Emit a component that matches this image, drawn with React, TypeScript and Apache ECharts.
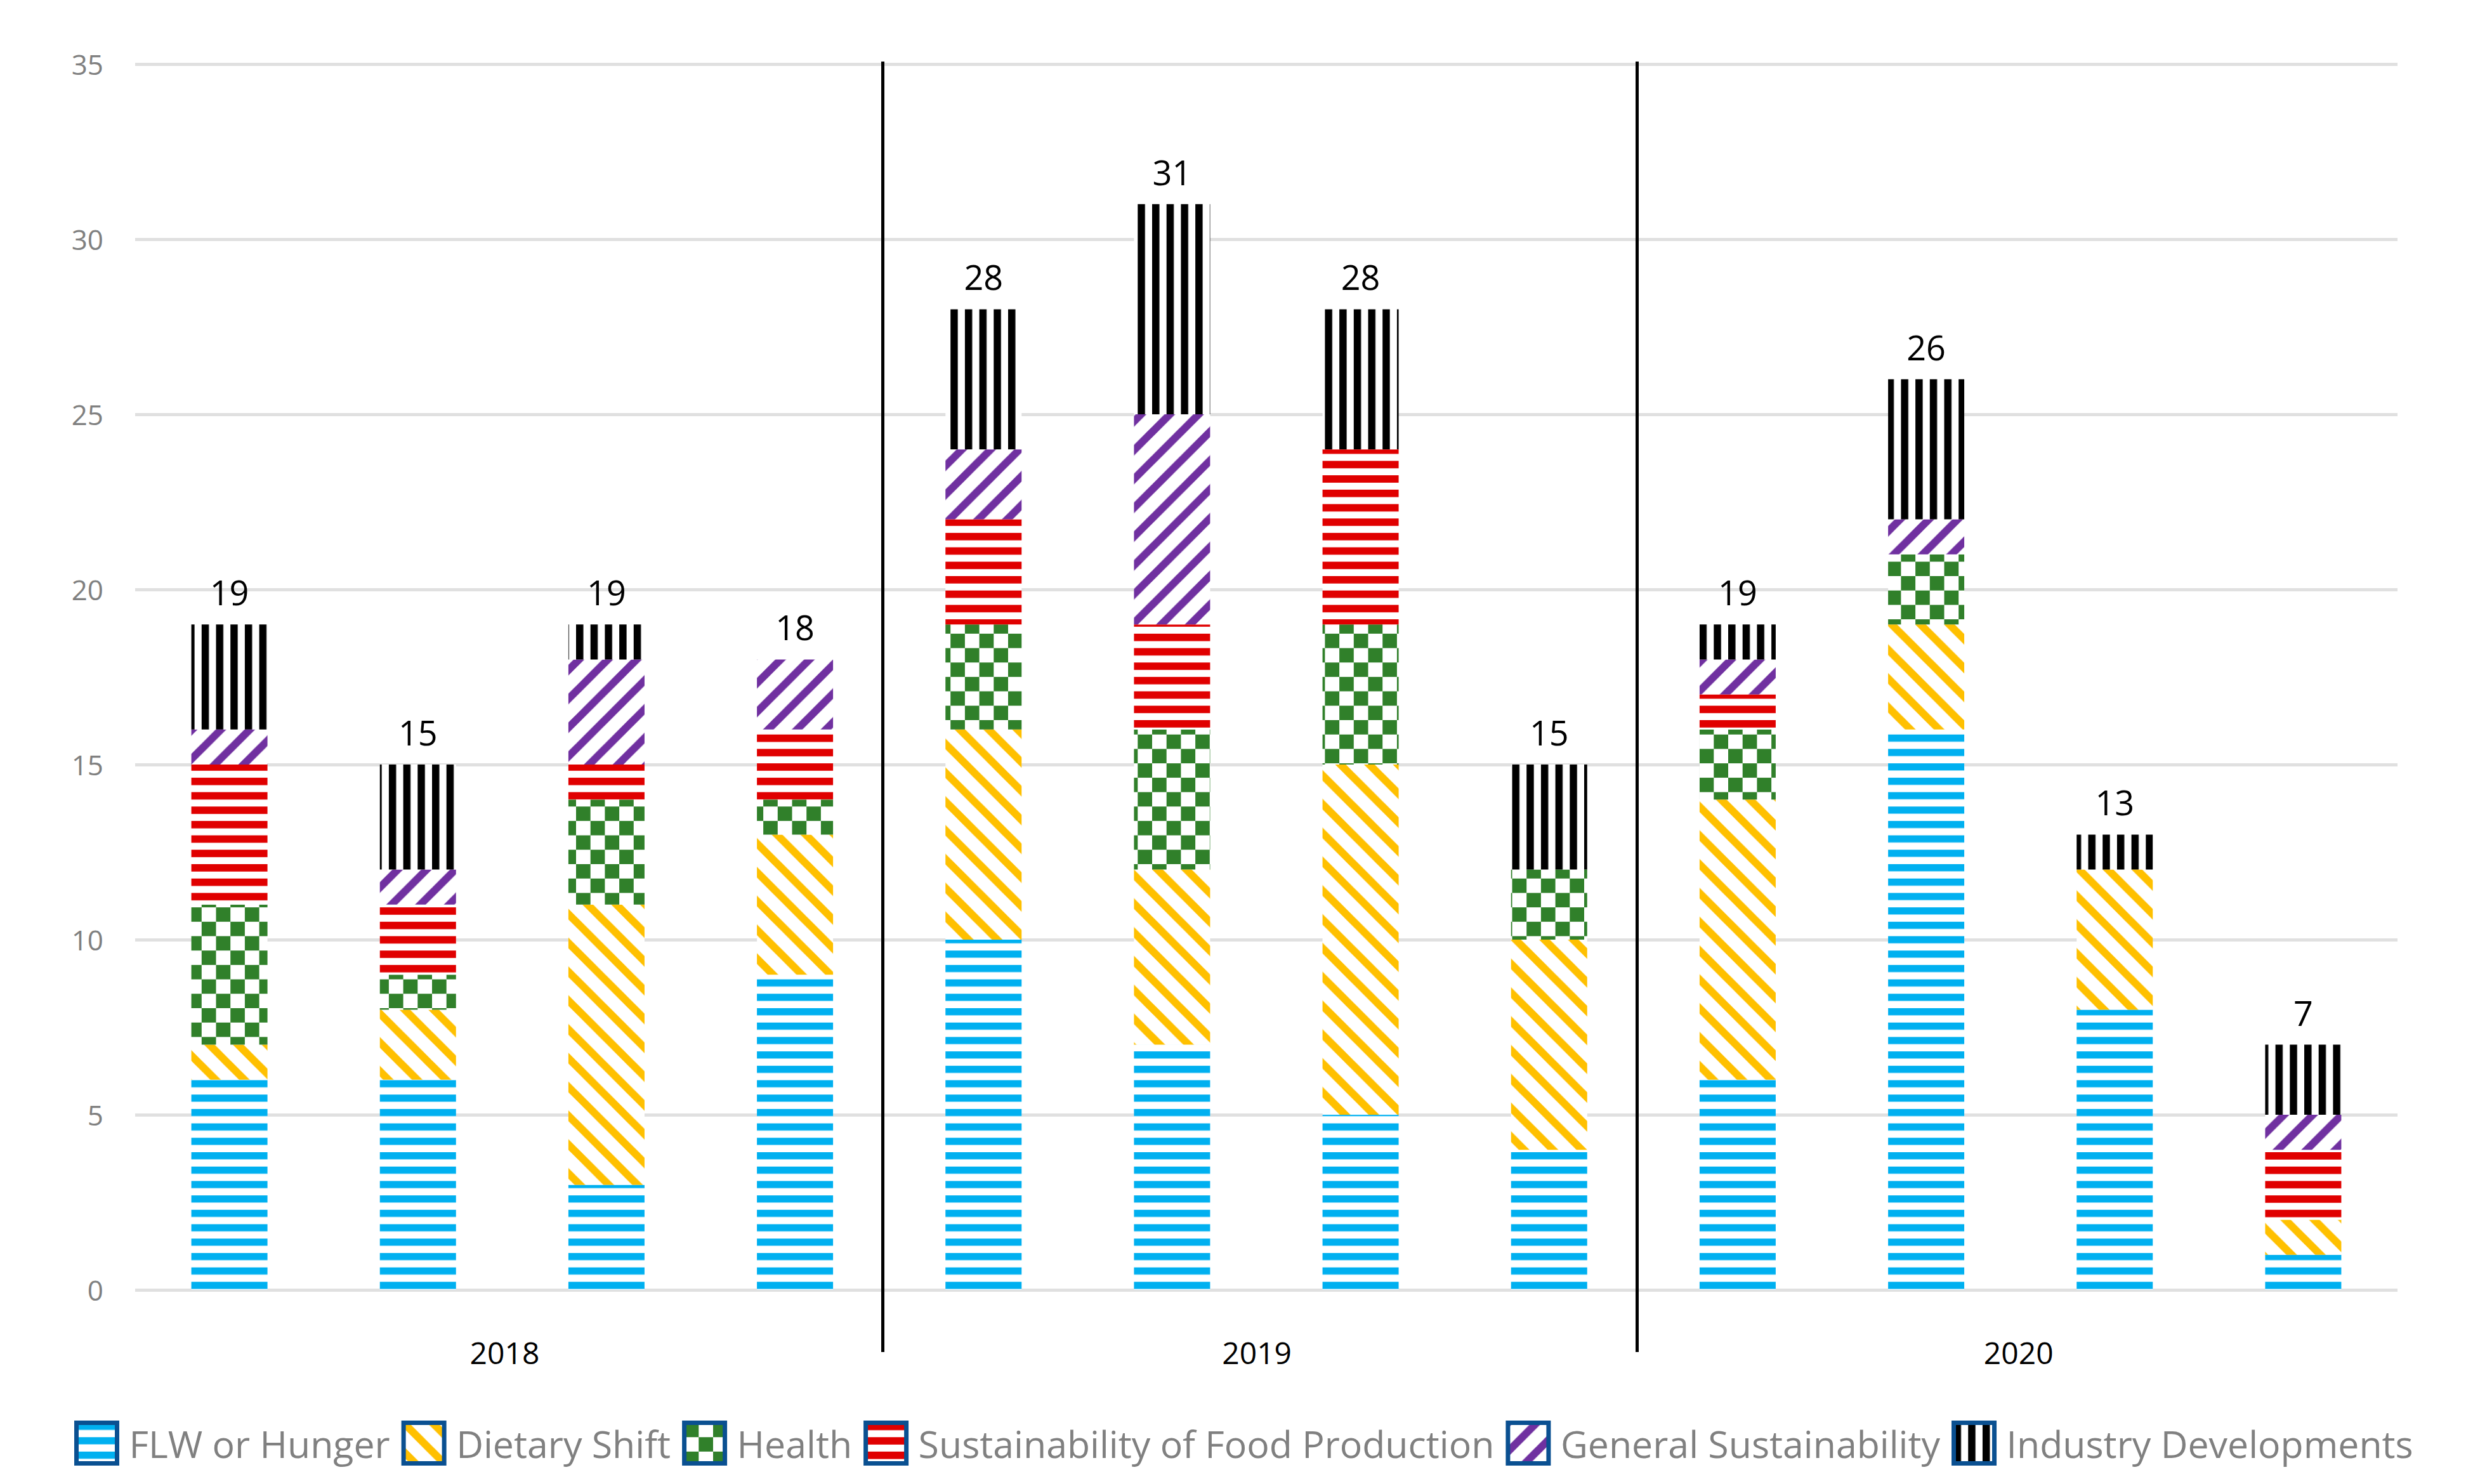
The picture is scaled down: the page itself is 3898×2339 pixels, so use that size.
import React, { useEffect, useRef } from 'react';
import * as echarts from 'echarts';

const categories = [
  '2018-a', '2018-b', '2018-c', '2018-d',
  '2019-a', '2019-b', '2019-c', '2019-d',
  '2020-a', '2020-b', '2020-c', '2020-d',
];
const years = ['2018', '2019', '2020'];
const seriesNames = [
  'FLW or Hunger',
  'Dietary Shift',
  'Health',
  'Sustainability of Food Production',
  'General Sustainability',
  'Industry Developments',
];
const flwOrHunger = [6, 6, 3, 9, 10, 7, 5, 4, 6, 16, 8, 1];
const dietaryShift = [1, 2, 8, 4, 6, 5, 10, 6, 8, 3, 4, 1];
const health = [4, 1, 3, 1, 3, 4, 4, 2, 2, 2, 0, 0];
const sustainabilityOfFood = [4, 2, 1, 2, 3, 3, 5, 0, 1, 0, 0, 2];
const generalSustainability = [1, 1, 3, 2, 2, 6, 0, 0, 1, 1, 0, 1];
const industryDevelopments = [3, 3, 1, 0, 4, 6, 4, 3, 1, 4, 1, 2];
const yMin = 0;
const yMax = 35;
const yStep = 5;

// layout: positions of the year separators / year labels along the category run
const yearBoundaryPos = [3.966, 7.966];
const yearLabelPos = [1.96, 5.95, 9.99];

const FONT = '"Open Sans", "Noto Sans", sans-serif';
const P = 22.7;

function svgPattern(w: number, h: number, inner: string) {
  const svg = `<svg xmlns="http://www.w3.org/2000/svg" width="${w}" height="${h}" viewBox="0 0 ${w} ${h}"><rect x="0" y="0" width="${w}" height="${h}" fill="#ffffff"/>${inner}</svg>`;
  return {
    image: 'data:image/svg+xml;charset=utf-8,' + encodeURIComponent(svg),
    repeat: 'repeat',
    imageWidth: w,
    imageHeight: h,
  };
}
const hStripe = (c: string, t: number) =>
  svgPattern(P, P, `<rect x="0" y="0" width="${P}" height="${t}" fill="${c}"/>`);
const vStripe = (c: string, t: number) =>
  svgPattern(P, P, `<rect x="0" y="0" width="${t}" height="${P}" fill="${c}"/>`);
const checker = (c: string) =>
  svgPattern(2 * P, 2 * P, `<rect x="0" y="0" width="${P}" height="${P}" fill="${c}"/><rect x="${P}" y="${P}" width="${P}" height="${P}" fill="${c}"/>`);
const diagDown = (c: string, w: number) => {
  const T = 2 * P;
  let lines = '';
  for (const k of [-1, 0, 1]) {
    lines += `<line x1="${-T}" y1="${-T + k * T}" x2="${2 * T}" y2="${2 * T + k * T}"/>`;
  }
  return svgPattern(T, T, `<g stroke="${c}" stroke-width="${w}">${lines}</g>`);
};
const diagUp = (c: string, w: number) => {
  const T = 2 * P;
  let lines = '';
  for (const k of [0, 1, 2]) {
    lines += `<line x1="${-T}" y1="${T + k * T}" x2="${2 * T}" y2="${-2 * T + k * T}"/>`;
  }
  return svgPattern(T, T, `<g stroke="${c}" stroke-width="${w}">${lines}</g>`);
};

export default function App() {
  const ref = useRef<HTMLDivElement>(null);
  useEffect(() => {
    if (!ref.current) return;
    const chart = echarts.init(ref.current, null, { renderer: 'svg' });
    const values = [
      flwOrHunger,
      dietaryShift,
      health,
      sustainabilityOfFood,
      generalSustainability,
      industryDevelopments,
    ];
    const fills = [
      hStripe('#00B0F0', 11.3),
      diagDown('#FFC000', 12),
      checker('#30802A'),
      hStripe('#E00000', 11.7),
      diagUp('#7030A0', 12),
      vStripe('#000000', 11.5),
    ];
    const totals = categories.map((_, i) => values.reduce((s, arr) => s + arr[i], 0));
    const stacked = seriesNames.map((name, si) => ({
      name,
      type: 'bar',
      stack: 'all',
      barWidth: 120,
      barGap: '-100%',
      xAxisIndex: 0,
      data: values[si],
      itemStyle: { color: fills[si] },
      emphasis: { disabled: true },
    }));
    const option = {
      animation: false,
      backgroundColor: '#ffffff',
      grid: { left: 213, right: 119, top: 101, bottom: 306 },
      legend: {
        data: seriesNames,
        left: 112,
        top: 2234,
        orient: 'horizontal',
        icon: 'rect',
        itemWidth: 64,
        itemHeight: 64,
        itemGap: 18,
        itemStyle: { borderColor: '#0A5091', borderWidth: 7 },
        textStyle: {
          fontFamily: FONT,
          fontSize: 59,
          color: '#808080',
          lineHeight: 70,
          padding: [0, 0, 0, 14],
        },
        selectedMode: false,
      },
      xAxis: [
        {
          type: 'category',
          data: categories,
          position: 'bottom',
          axisLine: { show: false },
          axisTick: { show: false },
          axisLabel: { show: false },
          splitLine: { show: false },
        },
        {
          type: 'value',
          min: 0,
          max: categories.length,
          position: 'bottom',
          offset: 98,
          axisLine: { show: false },
          splitLine: { show: false },
          axisTick: {
            show: true,
            inside: true,
            length: 2034,
            customValues: yearBoundaryPos,
            lineStyle: { color: '#000000', width: 5 },
          },
          axisLabel: {
            show: true,
            customValues: yearLabelPos,
            formatter: (v: number) => years[yearLabelPos.indexOf(v)] ?? '',
            verticalAlign: 'middle',
            margin: 0,
            color: '#000000',
            fontFamily: FONT,
            fontSize: 48,
          },
        },
      ],
      yAxis: {
        type: 'value',
        min: yMin,
        max: yMax,
        interval: yStep,
        axisLine: { show: false },
        axisTick: { show: false },
        axisLabel: {
          color: '#808080',
          fontFamily: FONT,
          fontSize: 44,
          margin: 50,
        },
        splitLine: { lineStyle: { color: '#E0E0E0', width: 5 } },
      },
      series: [
        ...stacked,
        {
          name: 'Total',
          type: 'bar',
          barWidth: 120,
          barGap: '-100%',
          data: totals,
          itemStyle: { color: 'rgba(0,0,0,0)' },
          silent: true,
          z: 10,
          label: {
            show: true,
            position: 'top',
            distance: 24,
            color: '#000000',
            fontFamily: FONT,
            fontSize: 54,
          },
        },
      ],
    };
    chart.setOption(option as any);
    return () => chart.dispose();
  }, []);
  return (
    <div
      ref={ref}
      style={{ position: 'fixed', left: 0, top: 0, width: 3898, height: 2339, background: '#fff' }}
    />
  );
}
